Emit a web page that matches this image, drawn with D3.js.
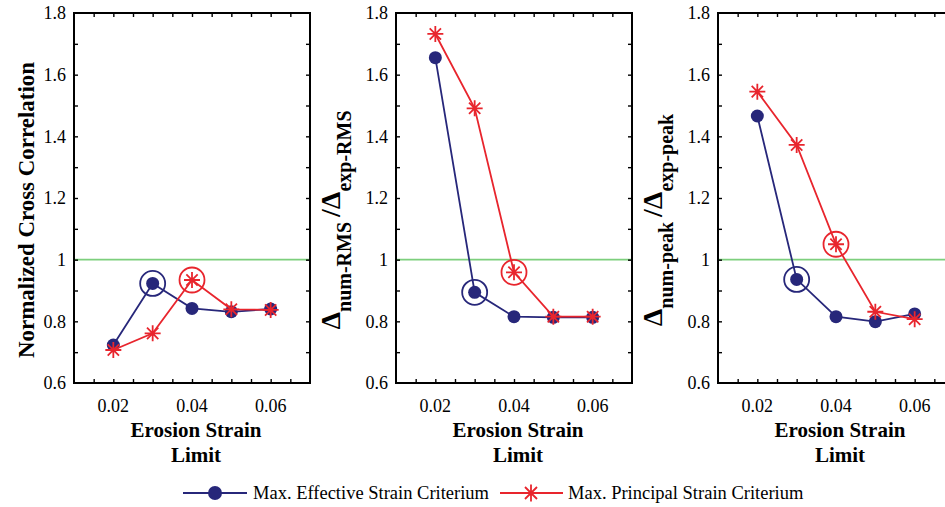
<!DOCTYPE html>
<html>
<head>
<meta charset="utf-8">
<script src="https://cdn.jsdelivr.net/npm/d3@7"></script>
<style>
  body { margin: 0; background: #fff; }
  svg { font-family: "Liberation Serif", "Times New Roman", serif; }
</style>
</head>
<body>
<div id="chart"></div>
<script>
  // strain limits
  var strain = [0.02, 0.03, 0.04, 0.05, 0.06]
  var yTicks = [0.6, 0.8, 1, 1.2, 1.4, 1.6, 1.8]
  var xTicks = [0.02, 0.04, 0.06]

  // normalized cross correlation
  var corrEffective = [0.723, 0.923, 0.842, 0.831, 0.840]
  var corrPrincipal = [0.707, 0.761, 0.934, 0.839, 0.837]
  // RMS ratio
  var rmsEffective = [1.655, 0.894, 0.815, 0.813, 0.813]
  var rmsPrincipal = [1.732, 1.491, 0.959, 0.815, 0.815]
  // peak ratio
  var peakEffective = [1.466, 0.936, 0.815, 0.799, 0.824]
  var peakPrincipal = [1.545, 1.372, 1.050, 0.831, 0.807]

  // index of the circled point per series
  var pickEffective = 1
  var pickPrincipal = 2

  var legendLabels = ["Max. Effective Strain Criterium", "Max. Principal Strain Criterium"]

  var blue = "#27277a", red = "#e8252d", green = "#7dcf7d"

  var svg = d3.select("#chart").append("svg")
    .attr("width", 945)
    .attr("height", 507)

  var plotTop = 13, plotBottom = 383, w = 236

  var asterisk = function (r) {
    var d = r * Math.SQRT1_2
    return "M" + (-r) + ",0L" + r + ",0M0," + (-r) + "L0," + r +
      "M" + (-d) + "," + (-d) + "L" + d + "," + d +
      "M" + (-d) + "," + d + "L" + d + "," + (-d)
  }

  const drawPanel = (left, eff, pri, labelFn) => {
    var g = svg.append("g").attr("transform", "translate(" + left + ",0)")

    var x = d3.scaleLinear().domain([0.01, 0.07]).range([0, w])
    var y = d3.scaleLinear().domain([0.6, 1.8]).range([plotBottom, plotTop])

    // reference line
    g.append("line")
      .attr("x1", 0).attr("x2", w)
      .attr("y1", y(1)).attr("y2", y(1))
      .attr("stroke", green).attr("stroke-width", 1.6)

    var minorX = d3.range(0.015, 0.0699, 0.005)
    var minorY = d3.range(0.7, 1.79, 0.1)

    // inward ticks on all four sides
    g.append("g").attr("transform", "translate(0," + plotBottom + ")")
      .call(d3.axisBottom(x).tickValues(minorX).tickSize(-4).tickFormat(""))
    g.append("g").attr("transform", "translate(0," + plotTop + ")")
      .call(d3.axisTop(x).tickValues(minorX).tickSize(-4).tickFormat(""))
    g.append("g")
      .call(d3.axisLeft(y).tickValues(minorY).tickSize(-4).tickFormat(""))
    g.append("g").attr("transform", "translate(" + w + ",0)")
      .call(d3.axisRight(y).tickValues(minorY).tickSize(-4).tickFormat(""))
    g.selectAll(".domain").remove()
    g.selectAll(".tick line").attr("stroke", "#000").attr("stroke-width", 1.4)

    // tick labels
    g.selectAll(".ylab").data(yTicks).enter().append("text")
      .attr("x", -8).attr("y", function (d) { return y(d) })
      .attr("dy", "0.35em")
      .attr("text-anchor", "end")
      .style("font-size", "18px")
      .text(function (d) { return d })
    g.selectAll(".xlab").data(xTicks).enter().append("text")
      .attr("x", function (d) { return x(d) }).attr("y", plotBottom + 29)
      .attr("text-anchor", "middle")
      .style("font-size", "18px")
      .text(function (d) { return d.toFixed(2) })

    // frame
    g.append("rect")
      .attr("x", 0).attr("y", plotTop)
      .attr("width", w).attr("height", plotBottom - plotTop)
      .attr("fill", "none").attr("stroke", "#000").attr("stroke-width", 2)

    // x title
    g.append("text")
      .attr("x", w / 2 + 4).attr("y", 437)
      .attr("text-anchor", "middle")
      .style("font-size", "21px").style("font-weight", "bold")
      .text("Erosion Strain")
    g.append("text")
      .attr("x", w / 2 + 4).attr("y", 462)
      .attr("text-anchor", "middle")
      .style("font-size", "21px").style("font-weight", "bold")
      .text("Limit")

    // y title
    labelFn(g)

    var line = d3.line()
      .x(function (d, i) { return x(strain[i]) })
      .y(function (d) { return y(d) })

    // effective strain series
    g.append("path").datum(eff)
      .attr("d", line).attr("fill", "none")
      .attr("stroke", blue).attr("stroke-width", 1.8)
    g.selectAll(".dot").data(eff).enter().append("circle")
      .attr("cx", function (d, i) { return x(strain[i]) })
      .attr("cy", function (d) { return y(d) })
      .attr("r", 6.5).attr("fill", blue)
    g.append("circle")
      .attr("cx", x(strain[pickEffective])).attr("cy", y(eff[pickEffective]))
      .attr("r", 12.5).attr("fill", "none")
      .attr("stroke", blue).attr("stroke-width", 1.8)

    // principal strain series
    g.append("path").datum(pri)
      .attr("d", line).attr("fill", "none")
      .attr("stroke", red).attr("stroke-width", 1.8)
    g.selectAll(".star").data(pri).enter().append("path")
      .attr("transform", function (d, i) { return "translate(" + x(strain[i]) + "," + y(d) + ")" })
      .attr("d", asterisk(8))
      .attr("stroke", red).attr("stroke-width", 1.8)
    g.append("circle")
      .attr("cx", x(strain[pickPrincipal])).attr("cy", y(pri[pickPrincipal]))
      .attr("r", 12.5).attr("fill", "none")
      .attr("stroke", red).attr("stroke-width", 1.8)
  }

  const plainLabel = (txt) => (g) => {
    g.append("text")
      .attr("transform", "translate(-40,210) rotate(-90)")
      .attr("text-anchor", "middle")
      .style("font-weight", "bold").style("font-size", "23px")
      .attr("textLength", 296).attr("lengthAdjust", "spacingAndGlyphs")
      .text(txt)
  }

  const deltaLabel = (a, b) => (g) => {
    var t = g.append("text")
      .attr("transform", "translate(-56,220) rotate(-90)")
      .attr("text-anchor", "middle")
      .style("font-weight", "bold").style("font-size", "28px")
    t.append("tspan").text("\u0394")
    t.append("tspan").attr("dy", 11).style("font-size", "20px").text(a)
    t.append("tspan").attr("dy", -11).attr("dx", 5).text("/\u0394")
    t.append("tspan").attr("dy", 11).style("font-size", "20px").text(b)
  }

  drawPanel(74, corrEffective, corrPrincipal, plainLabel("Normalized Cross Correlation"))
  drawPanel(396, rmsEffective, rmsPrincipal, deltaLabel("num-RMS", "exp-RMS"))
  drawPanel(718, peakEffective, peakPrincipal, deltaLabel("num-peak", "exp-peak"))

  // legend
  var lg = svg.append("g").attr("transform", "translate(0,493)")
  lg.append("line").attr("x1", 183).attr("x2", 247).attr("y1", 0).attr("y2", 0)
    .attr("stroke", blue).attr("stroke-width", 1.8)
  lg.append("circle").attr("cx", 215).attr("cy", 0).attr("r", 7).attr("fill", blue)
  lg.append("text").attr("x", 253).attr("y", 0).attr("dy", "0.35em")
    .style("font-size", "18.5px").text(legendLabels[0])
  lg.append("line").attr("x1", 500).attr("x2", 563).attr("y1", 0).attr("y2", 0)
    .attr("stroke", red).attr("stroke-width", 1.8)
  lg.append("path").attr("transform", "translate(531,0)").attr("d", asterisk(8.5))
    .attr("stroke", red).attr("stroke-width", 1.8)
  lg.append("text").attr("x", 568).attr("y", 0).attr("dy", "0.35em")
    .style("font-size", "18.5px").text(legendLabels[1])
</script>
</body>
</html>
